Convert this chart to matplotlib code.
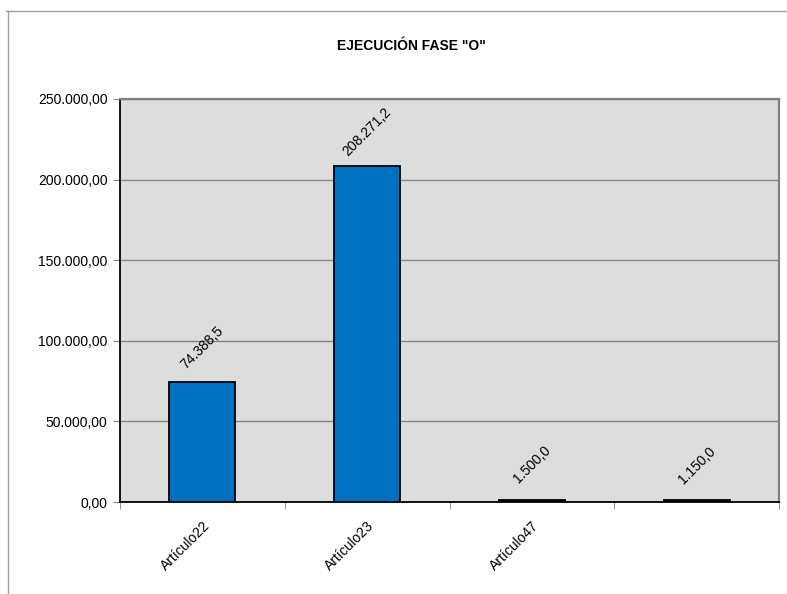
import matplotlib
matplotlib.use("Agg")
import matplotlib.pyplot as plt
from matplotlib.lines import Line2D
from matplotlib.ticker import FuncFormatter, FixedLocator
import numpy as np


plt.rcParams.update(
    {
        "font.family": ["Liberation Sans", "DejaVu Sans"],
        "font.size": 10,
    }
)

categories = ["Artículo22", "Artículo23", "Artículo47", ""]
values = [74388.5, 208271.2, 1500.0, 1150.0]
y_ticks = [0, 50000, 100000, 150000, 200000, 250000]

BAR = "#0070C0"
PLOT_BG = "#DDDDDD"
GRID = "#868686"


def es_number(v, decimals):
    s = f"{v:,.{decimals}f}"
    return s.replace(",", "X").replace(".", ",").replace("X", ".")


def main():
    fig = plt.figure(figsize=(7.87, 5.94), dpi=100)
    ax = fig.add_axes([120 / 787, 1 - 502 / 594, 659 / 787, 403 / 594])
    ax.set_facecolor(PLOT_BG)

    x = np.arange(len(categories))
    ax.bar(x, values, width=0.4, color=BAR, edgecolor="black", linewidth=1.3, zorder=3)

    ax.set_xlim(-0.5, len(categories) - 0.5)
    ax.set_ylim(y_ticks[0], y_ticks[-1])
    ax.set_yticks(y_ticks)
    ax.yaxis.set_major_formatter(FuncFormatter(lambda v, _: es_number(v, 2)))
    ax.grid(axis="y", color=GRID, linewidth=1.0, zorder=1)
    ax.tick_params(axis="y", length=5, color=GRID, labelsize=10, pad=4)

    ax.set_xticks(x)
    ax.set_xticklabels(categories, rotation=45, ha="right", rotation_mode="anchor")
    ax.tick_params(axis="x", which="major", length=0, pad=12, labelsize=10)
    ax.xaxis.set_minor_locator(FixedLocator(np.arange(len(categories) + 1) - 0.5))
    ax.tick_params(axis="x", which="minor", length=5, color=GRID)

    for spine in ("left", "bottom"):
        ax.spines[spine].set_color("black")
        ax.spines[spine].set_linewidth(1.3)
    for spine in ("top", "right"):
        ax.spines[spine].set_color("#808080")
        ax.spines[spine].set_linewidth(1.6)

    for xi, v in zip(x, values):
        ax.annotate(
            es_number(v, 1),
            (xi, v),
            xytext=(0, 25),
            textcoords="offset points",
            ha="center",
            va="center",
            rotation=45,
            fontsize=10,
        )

    fig.text(411 / 787, 1 - 46 / 594, 'EJECUCIÓN FASE "O"', ha="center", va="center",
             fontsize=10, fontweight="bold")

    # outer chart frame (top and left edges visible)
    frame = dict(color="#A0A0A0", linewidth=1.0, transform=fig.transFigure)
    fig.add_artist(Line2D([6 / 787, 1], [1 - 11 / 594, 1 - 11 / 594], **frame))
    fig.add_artist(Line2D([8 / 787, 8 / 787], [0, 1 - 11 / 594], **frame))

    fig.savefig("out.png", dpi=100)
    plt.close(fig)


if __name__ == "__main__":
    main()
